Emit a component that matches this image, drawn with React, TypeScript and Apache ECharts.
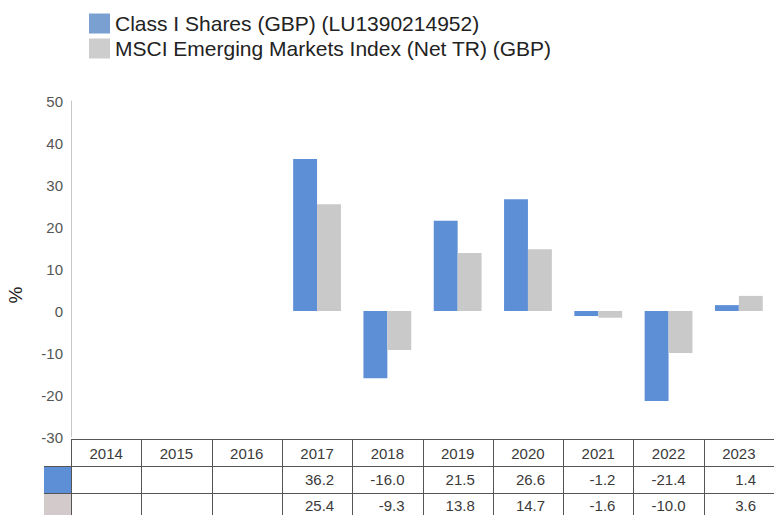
import React, { useEffect, useRef } from "react";
import * as echarts from "echarts";

const years = ["2014", "2015", "2016", "2017", "2018", "2019", "2020", "2021", "2022", "2023"];
const fundValues: (number | null)[] = [null, null, null, 36.2, -16.0, 21.5, 26.6, -1.2, -21.4, 1.4];
const indexValues: (number | null)[] = [null, null, null, 25.4, -9.3, 13.8, 14.7, -1.6, -10.0, 3.6];
const fundName = "Class I Shares (GBP) (LU1390214952)";
const indexName = "MSCI Emerging Markets Index (Net TR) (GBP)";
const yTicks = { min: -30, max: 50, interval: 10 };

const W = 774;
const H = 515;
const GRID_LEFT = 71;
const GRID_TOP = 101;
const GRID_BOTTOM_Y = 437;
const TABLE_TOP = 439;
const ROW_H = 27;
const SWATCH_LEFT = 44;

const FUND_COLOR = "#5d8fd6";
const FUND_LEGEND = "#79a0d0";
const INDEX_COLOR = "#c9c9c9";
const INDEX_LEGEND = "#cdcdcd";
const LINE_COLOR = "#555";
const FONT = "'Liberation Sans', Arial, sans-serif";

export default function App() {
  const ref = useRef<HTMLDivElement>(null);
  useEffect(() => {
    if (!ref.current) return;
    const chart = echarts.init(ref.current, null, { renderer: "svg" });
    const colW = (W - GRID_LEFT) / years.length;
    const graphics: any[] = [];
    graphics.push({ type: "line", shape: { x1: GRID_LEFT, y1: TABLE_TOP + 0.5, x2: W, y2: TABLE_TOP + 0.5 }, style: { stroke: LINE_COLOR, lineWidth: 1 } });
    graphics.push({ type: "line", shape: { x1: SWATCH_LEFT, y1: TABLE_TOP + ROW_H + 0.5, x2: W, y2: TABLE_TOP + ROW_H + 0.5 }, style: { stroke: LINE_COLOR, lineWidth: 1 } });
    graphics.push({ type: "line", shape: { x1: SWATCH_LEFT, y1: TABLE_TOP + 2 * ROW_H + 0.5, x2: W, y2: TABLE_TOP + 2 * ROW_H + 0.5 }, style: { stroke: LINE_COLOR, lineWidth: 1 } });
    graphics.push({ type: "rect", shape: { x: SWATCH_LEFT, y: TABLE_TOP + ROW_H + 1, width: GRID_LEFT - SWATCH_LEFT, height: ROW_H - 1 }, style: { fill: FUND_COLOR } });
    graphics.push({ type: "rect", shape: { x: SWATCH_LEFT, y: TABLE_TOP + 2 * ROW_H + 1, width: GRID_LEFT - SWATCH_LEFT, height: ROW_H }, style: { fill: "#d3cbcb" } });
    for (let i = 0; i <= years.length; i++) {
      const x = Math.round(GRID_LEFT + i * colW) + 0.5;
      graphics.push({ type: "line", shape: { x1: x, y1: TABLE_TOP, x2: x, y2: H }, style: { stroke: LINE_COLOR, lineWidth: 1 } });
    }
    const fmt = (v: number | null) => (v === null ? "" : v.toFixed(1));
    years.forEach((y, i) => {
      const left = GRID_LEFT + i * colW;
      graphics.push({ type: "text", x: left + colW / 2, y: TABLE_TOP + ROW_H / 2 + 1, style: { text: y, fill: "#3a3a3a", font: `15px ${FONT}`, align: "center", verticalAlign: "middle" } });
      graphics.push({ type: "text", x: left + colW - 18, y: TABLE_TOP + ROW_H * 1.5 + 0, style: { text: fmt(fundValues[i]), fill: "#3a3a3a", font: `15px ${FONT}`, align: "right", verticalAlign: "middle" } });
      graphics.push({ type: "text", x: left + colW - 18, y: TABLE_TOP + ROW_H * 2.5 - 1, style: { text: fmt(indexValues[i]), fill: "#3a3a3a", font: `15px ${FONT}`, align: "right", verticalAlign: "middle" } });
    });
    graphics.push({ type: "text", x: 15, y: 295, rotation: Math.PI / 2, style: { text: "%", fill: "#222", font: `19px ${FONT}`, align: "center", verticalAlign: "middle" } });

    chart.setOption({
      animation: false,
      backgroundColor: "#fff",
      textStyle: { fontFamily: FONT },
      legend: {
        orient: "vertical",
        left: 84,
        top: 8,
        itemWidth: 21,
        itemHeight: 20,
        itemGap: 4,
        icon: "rect",
        selectedMode: false,
        textStyle: { fontSize: 21, color: "#222", fontFamily: FONT },
        data: [
          { name: fundName, itemStyle: { color: FUND_LEGEND } },
          { name: indexName, itemStyle: { color: INDEX_LEGEND } },
        ],
      },
      grid: { left: GRID_LEFT, right: 0, top: GRID_TOP, bottom: H - GRID_BOTTOM_Y, containLabel: false },
      xAxis: {
        type: "category",
        data: years,
        axisLine: { show: false },
        axisTick: { show: false },
        axisLabel: { show: false },
      },
      yAxis: {
        type: "value",
        min: yTicks.min,
        max: yTicks.max,
        interval: yTicks.interval,
        axisLine: { show: true, lineStyle: { color: "#c8c8c8" } },
        axisTick: { show: false },
        splitLine: { show: false },
        axisLabel: { color: "#555", fontSize: 15, margin: 8, fontFamily: FONT },
      },
      series: [
        { name: fundName, type: "bar", data: fundValues, itemStyle: { color: FUND_COLOR }, barGap: "0%", barCategoryGap: "32%" },
        { name: indexName, type: "bar", data: indexValues, itemStyle: { color: INDEX_COLOR }, barGap: "0%", barCategoryGap: "32%" },
      ],
      graphic: graphics,
    });
    return () => chart.dispose();
  }, []);
  return <div ref={ref} style={{ position: "absolute", left: 0, top: 0, width: W, height: H }} />;
}
